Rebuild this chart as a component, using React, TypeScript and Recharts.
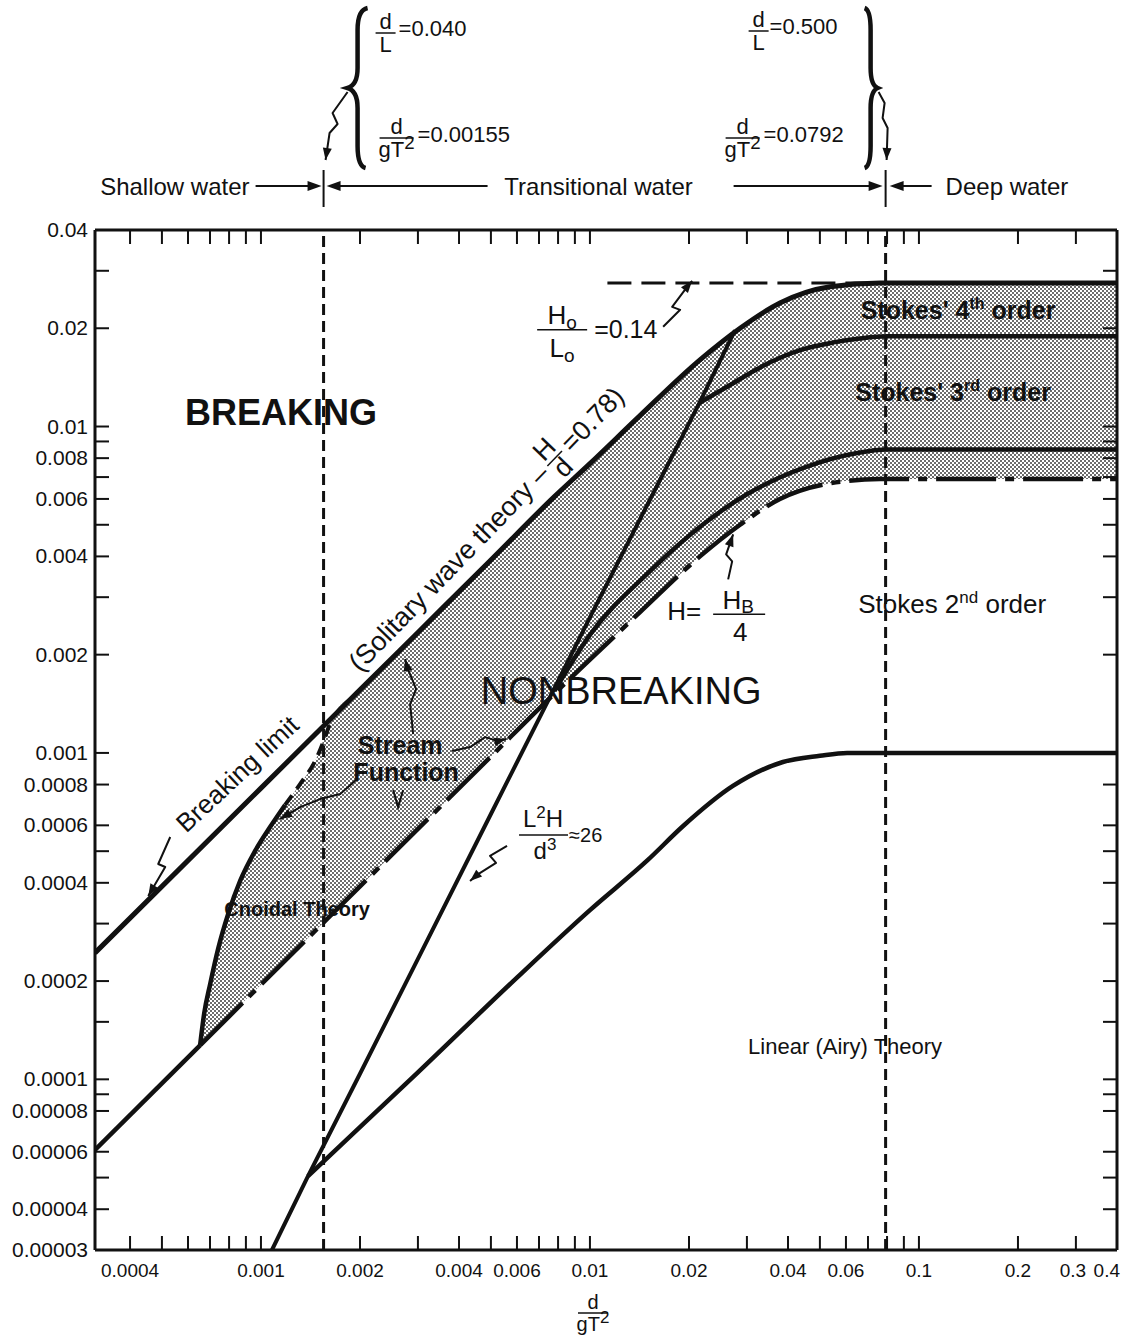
import React from 'react'
import { ComposedChart, Line, Area, XAxis, YAxis, ReferenceLine, ReferenceDot } from 'recharts'

// axes: d/gT^2 (x) and H/gT^2 (y), both logarithmic
const X_DOMAIN: [number, number] = [0.000313, 0.4]
const Y_DOMAIN: [number, number] = [0.00003, 0.04]

const X_TICKS = [0.0004, 0.0005, 0.0006, 0.0007, 0.0008, 0.0009, 0.001, 0.002, 0.003, 0.004, 0.005, 0.006, 0.007, 0.008, 0.009, 0.01, 0.02, 0.03, 0.04, 0.05, 0.06, 0.07, 0.08, 0.09, 0.1, 0.2, 0.3, 0.4]
const X_LABELS = [0.0004, 0.001, 0.002, 0.004, 0.006, 0.01, 0.02, 0.04, 0.06, 0.1, 0.2, 0.3, 0.4]
const Y_TICKS = [0.04, 0.03, 0.02, 0.01, 0.009, 0.008, 0.007, 0.006, 0.005, 0.004, 0.003, 0.002, 0.001, 0.0008, 0.0006, 0.0005, 0.0004, 0.0003, 0.0002, 0.00015, 0.0001, 0.00009, 0.00008, 0.00006, 0.00005, 0.00004, 0.00003]
const Y_LABELS = [0.04, 0.02, 0.01, 0.008, 0.006, 0.004, 0.002, 0.001, 0.0008, 0.0006, 0.0004, 0.0002, 0.0001, 0.00008, 0.00006, 0.00004, 0.00003]

// shallow / deep water limits (d/gT^2)
const SHALLOW_LIMIT = 0.00155
const DEEP_LIMIT = 0.0792

// breaking limit: H/d = 0.78 in shallow water, Ho/Lo = 0.14 in deep water
const BREAK_X = [0.000313, 0.001, 0.002, 0.003, 0.005, 0.0078, 0.01, 0.0142, 0.0216, 0.0286, 0.0378, 0.0537, 0.0762, 0.1, 0.4]
const BREAK_Y = [0.000244, 0.00078, 0.00156, 0.00234, 0.0039, 0.0061, 0.0077, 0.0108, 0.016, 0.02, 0.0239, 0.0268, 0.0275, 0.0275, 0.0275]

// H = H_B/4 (solid in the far left, dash-dot after)
const HB4_LEFT_X = [0.000313, 0.000653]
const HB4_LEFT_Y = [0.0000608, 0.000127]
const HB4_X = [0.000653, 0.001, 0.002, 0.003, 0.005, 0.0078, 0.01, 0.0142, 0.0216, 0.0286, 0.0378, 0.0537, 0.0762, 0.1, 0.4]
const HB4_Y = [0.000127, 0.000195, 0.00039, 0.000585, 0.000975, 0.00152, 0.00193, 0.0027, 0.004, 0.005, 0.006, 0.0067, 0.0069, 0.0069, 0.0069]

// cnoidal / stream function boundary
const CNOIDAL_X = [0.000653, 0.000672, 0.000701, 0.000741, 0.000795, 0.000865, 0.00096, 0.001066, 0.001184]
const CNOIDAL_Y = [0.000127, 0.000159, 0.000196, 0.000251, 0.000321, 0.000406, 0.000501, 0.000593, 0.000693]
const CNOIDAL_DASH_X = [0.001184, 0.001315, 0.001461, 0.001646]
const CNOIDAL_DASH_Y = [0.000693, 0.000803, 0.000944, 0.001287]

// L^2 H / d^3 = 26
const URSELL_X = [0.00108, 0.00139, 0.002, 0.003, 0.005, 0.0078, 0.01, 0.015, 0.0215, 0.0276]
const URSELL_Y = [0.00003, 0.0000505, 0.000104, 0.000234, 0.00065, 0.00158, 0.0026, 0.0058, 0.0118, 0.0197]

// linear (Airy) theory upper limit
const LINEAR_X = [0.00139, 0.003, 0.006, 0.01, 0.015, 0.0192, 0.0272, 0.0386, 0.05, 0.0605, 0.4]
const LINEAR_Y = [0.0000505, 0.000105, 0.000205, 0.00033, 0.00047, 0.000597, 0.000792, 0.000938, 0.00098, 0.001, 0.001]

// Stokes 3rd / 4th order boundary
const STOKES34_X = [0.0215, 0.027, 0.033, 0.044, 0.055, 0.066, 0.08, 0.4]
const STOKES34_Y = [0.0118, 0.0135, 0.0152, 0.0172, 0.0181, 0.0186, 0.0189, 0.0189]

// Stokes 2nd / 3rd order boundary
const STOKES23_X = [0.0078, 0.01, 0.0152, 0.022, 0.03, 0.045, 0.065, 0.08, 0.4]
const STOKES23_Y = [0.00155, 0.0023, 0.0036, 0.005, 0.0062, 0.0075, 0.0083, 0.0085, 0.0085]

// Ho/Lo = 0.14 dashed
const STEEP_X = [0.0113, 0.075]
const STEEP_Y = [0.0275, 0.0275]

// shaded (stippled) region between the breaking limit and H_B/4
const SHADE_X = [0.000653, 0.000672, 0.000701, 0.000741, 0.000795, 0.000865, 0.00096, 0.001066, 0.001184, 0.001315, 0.001461, 0.001646, 0.002, 0.003, 0.005, 0.0078, 0.01, 0.0142, 0.0216, 0.0286, 0.0378, 0.0537, 0.0762, 0.1, 0.4]
const SHADE_LOW = [0.000127, 0.000131, 0.000137, 0.0001445, 0.000155, 0.000169, 0.000187, 0.000208, 0.000231, 0.000256, 0.000285, 0.000321, 0.00039, 0.000585, 0.000975, 0.00152, 0.00193, 0.0027, 0.004, 0.005, 0.006, 0.0067, 0.0069, 0.0069, 0.0069]
const SHADE_HIGH = [0.000127, 0.000159, 0.000196, 0.000251, 0.000321, 0.000406, 0.000501, 0.000593, 0.000693, 0.000803, 0.000944, 0.001287, 0.00156, 0.00234, 0.0039, 0.0061, 0.0077, 0.0108, 0.016, 0.02, 0.0239, 0.0268, 0.0275, 0.0275, 0.0275]

const FONT = '"Liberation Sans", Arial, Helvetica, sans-serif'
const INK = '#111'

const pts = (xs: number[], ys: number[]) => xs.map((x, i) => ({ x, y: ys[i] }))
const shade = SHADE_X.map((x, i) => ({ x, range: [SHADE_LOW[i], SHADE_HIGH[i]] }))

const arrowHead = (tx: number, ty: number, deg: number, len = 12, half = 4.5) => {
  const a = (deg * Math.PI) / 180
  const bx = tx - len * Math.cos(a)
  const by = ty - len * Math.sin(a)
  const nx = -Math.sin(a) * half
  const ny = Math.cos(a) * half
  return <polygon points={`${tx},${ty} ${bx + nx},${by + ny} ${bx - nx},${by - ny}`} fill={INK} />
}

const zigArrow = (cx: number, cy: number, rel: number[][], w = 2) => {
  const p = rel.map(([dx, dy]) => [cx + dx, cy + dy])
  const [tx, ty] = p[p.length - 1]
  const [sx, sy] = p[p.length - 2]
  const deg = (Math.atan2(ty - sy, tx - sx) * 180) / Math.PI
  return (
    <g>
      <polyline points={p.map((q) => q.join(',')).join(' ')} fill="none" stroke={INK} strokeWidth={w} strokeLinejoin="round" />
      {arrowHead(tx, ty, deg)}
    </g>
  )
}

const frac = (cx: number, barY: number, num: React.ReactNode, den: React.ReactNode, size: number, barW: number) => (
  <g>
    <text x={cx} y={barY - size * 0.18} textAnchor="middle" fontSize={size}>{num}</text>
    <line x1={cx - barW / 2} x2={cx + barW / 2} y1={barY} y2={barY} stroke={INK} strokeWidth={1.5} />
    <text x={cx} y={barY + size * 0.88} textAnchor="middle" fontSize={size}>{den}</text>
  </g>
)

const gT2 = (size: number) => (
  <>
    gT<tspan dy={-size * 0.38} fontSize={size * 0.85}>2</tspan>
  </>
)

// nudges so the crowded last labels don't run together
const labelX = (v: number, x: number) => (v === 0.4 ? x + 3 : v === 0.3 ? x - 3 : x)

const BottomTick = (p: any) => {
  const v = p.payload.value
  return (
    <g>
      <line x1={p.x} x2={p.x} y1={p.y} y2={p.y - 14} stroke={INK} strokeWidth={2} />
      {X_LABELS.includes(v) && (
        <text x={labelX(v, p.x)} y={p.y + 27} textAnchor={v === 0.4 ? 'end' : 'middle'} fontSize={19} fontFamily={FONT} fill={INK}>
          {String(v)}
        </text>
      )}
    </g>
  )
}

const TopTick = (p: any) => <line x1={p.x} x2={p.x} y1={p.y} y2={p.y + 14} stroke={INK} strokeWidth={2} />

const LeftTick = (p: any) => {
  const v = p.payload.value
  return (
    <g>
      <line x1={p.x} x2={p.x + 14} y1={p.y} y2={p.y} stroke={INK} strokeWidth={2} />
      {Y_LABELS.includes(v) && (
        <text x={p.x - 7} y={p.y + 7} textAnchor="end" fontSize={21} fontFamily={FONT} fill={INK}>
          {String(v)}
        </text>
      )}
    </g>
  )
}

const RightTick = (p: any) => <line x1={p.x} x2={p.x - 14} y1={p.y} y2={p.y} stroke={INK} strokeWidth={2} />

const XTitle = (p: any) => {
  const vb = p.viewBox
  return (
    <g fontFamily={FONT} fill={INK}>
      {frac(vb.x + vb.width / 2 - 13, vb.y + 63, 'd', gT2(20), 20, 30)}
    </g>
  )
}

// annotation drawn at a data position
const note = (key: string, x: number, y: number, draw: (cx: number, cy: number) => React.ReactNode) => (
  <ReferenceDot
    key={key}
    x={x}
    y={y}
    r={0}
    ifOverflow="visible"
    shape={(p: any) => (
      <g fontFamily={FONT} fill={INK}>
        {draw(p.cx, p.cy)}
      </g>
    )}
  />
)

const braceLeft = (x: number, y: number) =>
  `M ${x + 44} ${y - 222} Q ${x + 34} ${y - 220} ${x + 34} ${y - 200} L ${x + 34} ${y - 162} Q ${x + 34} ${y - 145} ${x + 24} ${y - 142} Q ${x + 34} ${y - 139} ${x + 34} ${y - 122} L ${x + 34} ${y - 84} Q ${x + 34} ${y - 64} ${x + 42} ${y - 62}`

const braceRight = (x: number, y: number) =>
  `M ${x - 21} ${y - 222} Q ${x - 15} ${y - 220} ${x - 15} ${y - 200} L ${x - 15} ${y - 162} Q ${x - 15} ${y - 145} ${x - 8} ${y - 142} Q ${x - 15} ${y - 139} ${x - 15} ${y - 122} L ${x - 15} ${y - 84} Q ${x - 15} ${y - 64} ${x - 21} ${y - 62}`

const notes = [
  note('shallow', SHALLOW_LIMIT, Y_DOMAIN[1], (cx, cy) => (
    <g>
      <line x1={cx} x2={cx} y1={cy - 60} y2={cy - 23} stroke={INK} strokeWidth={2} />
      <line x1={cx - 68} x2={cx - 10} y1={cy - 44} y2={cy - 44} stroke={INK} strokeWidth={2} />
      {arrowHead(cx - 2, cy - 44, 0, 14, 5)}
      <line x1={cx + 164} x2={cx + 10} y1={cy - 44} y2={cy - 44} stroke={INK} strokeWidth={2} />
      {arrowHead(cx + 3, cy - 44, 180, 14, 5)}
      <text x={cx - 74} y={cy - 35} textAnchor="end" fontSize={24}>Shallow water</text>
      <path d={braceLeft(cx, cy)} fill="none" stroke={INK} strokeWidth={4.5} />
      {zigArrow(cx, cy, [[24, -138], [9, -117], [14, -106], [6, -97], [2, -70]])}
      {frac(cx + 62, cy - 197, 'd', 'L', 22, 20)}
      <text x={cx + 75} y={cy - 194} fontSize={22}>=0.040</text>
      {frac(cx + 73, cy - 92, 'd', gT2(22), 22, 34)}
      <text x={cx + 94} y={cy - 88} fontSize={22}>=0.00155</text>
    </g>
  )),
  note('transitional', Math.sqrt(SHALLOW_LIMIT * DEEP_LIMIT), Y_DOMAIN[1], (cx, cy) => (
    <text x={cx - 6} y={cy - 35} textAnchor="middle" fontSize={24}>Transitional water</text>
  )),
  note('deep', DEEP_LIMIT, Y_DOMAIN[1], (cx, cy) => (
    <g>
      <line x1={cx} x2={cx} y1={cy - 60} y2={cy - 23} stroke={INK} strokeWidth={2} />
      <line x1={cx - 152} x2={cx - 12} y1={cy - 44} y2={cy - 44} stroke={INK} strokeWidth={2} />
      {arrowHead(cx - 3, cy - 44, 0, 14, 5)}
      <line x1={cx + 46} x2={cx + 12} y1={cy - 44} y2={cy - 44} stroke={INK} strokeWidth={2} />
      {arrowHead(cx + 4, cy - 44, 180, 14, 5)}
      <text x={cx + 60} y={cy - 35} fontSize={24}>Deep water</text>
      <path d={braceRight(cx, cy)} fill="none" stroke={INK} strokeWidth={4.5} />
      {zigArrow(cx, cy, [[-7, -138], [-1, -127], [-3, -112], [2, -102], [1, -70]])}
      {frac(cx - 127, cy - 199, 'd', 'L', 22, 20)}
      <text x={cx - 116} y={cy - 196} fontSize={22}>=0.500</text>
      {frac(cx - 143, cy - 92, 'd', gT2(22), 22, 34)}
      <text x={cx - 122} y={cy - 88} fontSize={22}>=0.0792</text>
    </g>
  )),
  note('breaking', 0.001151, 0.0111, (cx, cy) => (
    <text x={cx} y={cy + 13} textAnchor="middle" fontSize={36} fontWeight="bold">BREAKING</text>
  )),
  note('nonbreaking', 0.01244, 0.001557, (cx, cy) => (
    <text x={cx} y={cy + 14} textAnchor="middle" fontSize={38}>NONBREAKING</text>
  )),
  note('stokes4', 0.1315, 0.02277, (cx, cy) => (
    <text x={cx} y={cy + 9} textAnchor="middle" fontSize={25} fontWeight="bold">
      Stokes' 4<tspan dy={-10} fontSize={16}>th</tspan>
      <tspan dy={10}> order</tspan>
    </text>
  )),
  note('stokes3', 0.127, 0.01278, (cx, cy) => (
    <text x={cx} y={cy + 9} textAnchor="middle" fontSize={25} fontWeight="bold">
      Stokes' 3<tspan dy={-10} fontSize={16}>rd</tspan>
      <tspan dy={10}> order</tspan>
    </text>
  )),
  note('stokes2', 0.1262, 0.002852, (cx, cy) => (
    <text x={cx} y={cy + 9} textAnchor="middle" fontSize={26}>
      Stokes 2<tspan dy={-10} fontSize={17}>nd</tspan>
      <tspan dy={10}> order</tspan>
    </text>
  )),
  note('linear', 0.05965, 0.0001269, (cx, cy) => (
    <text x={cx} y={cy + 8} textAnchor="middle" fontSize={22}>Linear (Airy) Theory</text>
  )),
  note('cnoidal', 0.001288, 0.0003331, (cx, cy) => (
    <text x={cx} y={cy + 7} textAnchor="middle" fontSize={20} fontWeight="bold">Cnoidal Theory</text>
  )),
  note('stream', 0.002705, 0.000971, (cx, cy) => (
    <g>
      <text x={cx - 3} y={cy - 3} textAnchor="middle" fontSize={25} fontWeight="bold">Stream</text>
      <text x={cx + 3} y={cy + 24} textAnchor="middle" fontSize={25} fontWeight="bold">Function</text>
      {zigArrow(cx, cy, [[10, -23], [7, -53], [13, -68], [4, -90], [2, -98]])}
      {zigArrow(cx, cy, [[49, -6], [67, -10], [82, -20], [95, -16], [103, -18]])}
      {zigArrow(cx, cy, [[-46, 22], [-63, 37], [-83, 42], [-103, 50], [-123, 62]])}
      <polyline points={`${cx - 10},${cy + 33} ${cx - 5},${cy + 50} ${cx},${cy + 33}`} fill="none" stroke={INK} strokeWidth={2} />
    </g>
  )),
  note('breakingLimit', 0.000847, 0.000862, (cx, cy) => (
    <g>
      <text x={cx} y={cy + 9} transform={`rotate(-43 ${cx} ${cy})`} textAnchor="middle" fontSize={26}>Breaking limit</text>
      {zigArrow(cx, cy, [[-67, 63], [-79, 90], [-72, 93], [-89, 122]])}
    </g>
  )),
  note('solitary', 0.00484, 0.00484, (cx, cy) => (
    <g transform={`translate(${cx},${cy}) rotate(-46)`}>
      <text x={-191} y={9} fontSize={27}>(Solitary wave theory –</text>
      <text x={98} y={-5} textAnchor="middle" fontSize={27}>H</text>
      <line x1={88} x2={109} y1={0} y2={0} stroke={INK} strokeWidth={1.5} />
      <text x={98} y={21} textAnchor="middle" fontSize={27}>d</text>
      <text x={114} y={9} fontSize={27}>=0.78)</text>
    </g>
  )),
  note('steepness', 0.01074, 0.01978, (cx, cy) => (
    <g>
      <text x={cx - 38} y={cy - 6} textAnchor="middle" fontSize={26}>
        H<tspan dy={5} fontSize={19}>o</tspan>
      </text>
      <line x1={cx - 63} x2={cx - 13} y1={cy} y2={cy} stroke={INK} strokeWidth={1.5} />
      <text x={cx - 38} y={cy + 27} textAnchor="middle" fontSize={26}>
        L<tspan dy={5} fontSize={19}>o</tspan>
      </text>
      <text x={cx - 6} y={cy + 8} fontSize={25}>=0.14</text>
      {zigArrow(cx, cy, [[63, -3], [80, -20], [72, -23], [87, -43], [92, -49]])}
    </g>
  )),
  note('hb4', 0.02402, 0.002658, (cx, cy) => (
    <g>
      <text x={cx - 48} y={cy + 6} fontSize={26}>H=</text>
      <text x={cx + 23} y={cy - 5} textAnchor="middle" fontSize={26}>
        H<tspan dy={4} fontSize={19}>B</tspan>
      </text>
      <line x1={cx - 2} x2={cx + 50} y1={cy} y2={cy} stroke={INK} strokeWidth={1.5} />
      <text x={cx + 25} y={cy + 27} textAnchor="middle" fontSize={26}>4</text>
      {zigArrow(cx, cy, [[13, -35], [17, -53], [11, -60], [18, -80]])}
    </g>
  )),
  note('ursell', 0.0084, 0.000585, (cx, cy) => (
    <g>
      <text x={cx - 22} y={cy - 2} textAnchor="middle" fontSize={24}>
        L<tspan dy={-9} fontSize={17}>2</tspan>
        <tspan dy={9}>H</tspan>
      </text>
      <line x1={cx - 46} x2={cx + 3} y1={cy + 6} y2={cy + 6} stroke={INK} strokeWidth={1.5} />
      <text x={cx - 20} y={cy + 30} textAnchor="middle" fontSize={24}>
        d<tspan dy={-9} fontSize={17}>3</tspan>
      </text>
      <text x={cx + 4} y={cy + 13} fontSize={20}>≈26</text>
      {zigArrow(cx, cy, [[-58, 17], [-75, 27], [-69, 34], [-88, 46], [-95, 52]])}
    </g>
  )),
]

const frame = { stroke: INK, strokeWidth: 3 }

export default function App() {
  return (
    <div style={{ position: 'absolute', left: 0, top: 0, width: 1142, height: 1339, background: '#fff' }}>
      <ComposedChart width={1142} height={1339} margin={{ top: 229, right: 24, bottom: 0, left: 0 }}>
        <defs>
          <pattern id="stipple" width={4} height={4} patternUnits="userSpaceOnUse">
            <rect width={4} height={4} fill="#ffffff" />
            <rect width={2} height={2} fill="#6c6c6c" />
            <rect x={2} y={2} width={2} height={2} fill="#6c6c6c" />
          </pattern>
        </defs>
        <XAxis dataKey="x" type="number" scale="log" domain={X_DOMAIN} allowDataOverflow ticks={X_TICKS} interval={0} height={89} tickSize={0} tickMargin={0} tickLine={false} axisLine={frame} tick={<BottomTick />} label={<XTitle />} />
        <XAxis xAxisId="top" orientation="top" dataKey="x" type="number" scale="log" domain={X_DOMAIN} allowDataOverflow ticks={X_TICKS} interval={0} height={1} tickSize={0} tickMargin={0} tickLine={false} axisLine={frame} tick={<TopTick />} />
        <YAxis type="number" scale="log" domain={Y_DOMAIN} allowDataOverflow ticks={Y_TICKS} interval={0} width={95} tickSize={0} tickMargin={0} tickLine={false} axisLine={frame} tick={<LeftTick />} />
        <YAxis yAxisId="right" orientation="right" type="number" scale="log" domain={Y_DOMAIN} allowDataOverflow ticks={Y_TICKS} interval={0} width={1} tickSize={0} tickMargin={0} tickLine={false} axisLine={frame} tick={<RightTick />} />

        <Area data={shade} dataKey="range" type="monotone" stroke="none" fill="url(#stipple)" fillOpacity={1} isAnimationActive={false} activeDot={false} />

        <ReferenceLine x={SHALLOW_LIMIT} stroke={INK} strokeWidth={3} strokeDasharray="11 6" />
        <ReferenceLine x={DEEP_LIMIT} stroke={INK} strokeWidth={3} strokeDasharray="11 6" />

        <Line data={pts(BREAK_X, BREAK_Y)} dataKey="y" type="monotone" stroke={INK} strokeWidth={5} dot={false} activeDot={false} isAnimationActive={false} />
        <Line data={pts(HB4_LEFT_X, HB4_LEFT_Y)} dataKey="y" type="linear" stroke={INK} strokeWidth={4.5} dot={false} activeDot={false} isAnimationActive={false} />
        <Line data={pts(HB4_X, HB4_Y)} dataKey="y" type="monotone" stroke={INK} strokeWidth={4.5} strokeDasharray="60 9 9 9" dot={false} activeDot={false} isAnimationActive={false} />
        <Line data={pts(CNOIDAL_X, CNOIDAL_Y)} dataKey="y" type="monotone" stroke={INK} strokeWidth={4.5} dot={false} activeDot={false} isAnimationActive={false} />
        <Line data={pts(CNOIDAL_DASH_X, CNOIDAL_DASH_Y)} dataKey="y" type="monotone" stroke={INK} strokeWidth={4} strokeDasharray="12 8" dot={false} activeDot={false} isAnimationActive={false} />
        <Line data={pts(URSELL_X, URSELL_Y)} dataKey="y" type="linear" stroke={INK} strokeWidth={4} dot={false} activeDot={false} isAnimationActive={false} />
        <Line data={pts(LINEAR_X, LINEAR_Y)} dataKey="y" type="monotone" stroke={INK} strokeWidth={4.5} dot={false} activeDot={false} isAnimationActive={false} />
        <Line data={pts(STOKES34_X, STOKES34_Y)} dataKey="y" type="monotone" stroke={INK} strokeWidth={4.5} dot={false} activeDot={false} isAnimationActive={false} />
        <Line data={pts(STOKES23_X, STOKES23_Y)} dataKey="y" type="monotone" stroke={INK} strokeWidth={4.5} dot={false} activeDot={false} isAnimationActive={false} />
        <Line data={pts(STEEP_X, STEEP_Y)} dataKey="y" type="linear" stroke={INK} strokeWidth={3} strokeDasharray="24 10" dot={false} activeDot={false} isAnimationActive={false} />

        {notes}
      </ComposedChart>
    </div>
  )
}
